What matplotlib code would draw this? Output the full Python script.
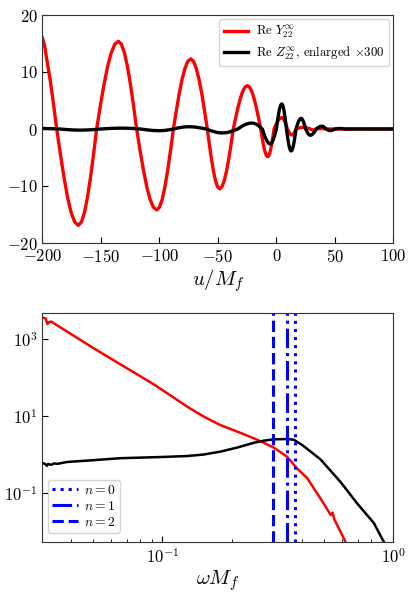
import matplotlib
matplotlib.use("Agg")
import matplotlib.pyplot as plt
from matplotlib.ticker import FixedLocator, NullLocator

plt.rcParams['font.family'] = 'serif'
plt.rcParams['font.serif'] = ['cmr10', 'DejaVu Serif']
plt.rcParams['mathtext.fontset'] = 'cm'
plt.rcParams['axes.formatter.use_mathtext'] = True
plt.rcParams['axes.unicode_minus'] = True

# ---- top panel: time domain ----
u_Y = [-200, -198, -196.5, -193.5, -190.6, -187.7,
       -184.6, -181.5, -178.5, -175.4, -172.3, -169.2,
       -166.6, -164.0, -161.4, -158.8, -156.2, -153.6,
       -150.5, -147.4, -144.3, -141.2, -138.1, -135,
       -132.4, -129.8, -127.2, -124.6, -122.0, -119.4,
       -116.55, -113.7, -110.85, -108.0, -105.15, -102.3,
       -99.9, -97.5, -95.15, -92.8, -90.4, -88,
       -85.5, -83.1, -80.6, -78.1, -75.7, -73.2,
       -70.8, -68.5, -66.1, -63.7, -61.4, -59,
       -57.25, -55.5, -53.75, -52.0, -50.25, -48.5,
       -46.55, -44.6, -42.65, -40.7, -38.75, -36.8,
       -34.8, -32.8, -30.8, -28.8, -26.8, -24.8,
       -22.9, -21.0, -19.1, -17.2, -15.3, -13.4,
       -12.4, -11.4, -10.4, -9.4, -8.4, -7.4,
       -6.5, -5.6, -4.7, -3.8, -2.9, -2,
       -0.9, 0.2, 1.3, 2.4, 3.5, 4.6,
       5.4, 6.2, 7.0, 7.8, 8.6, 9.4,
       10.03, 10.67, 11.3, 11.93, 12.57, 13.2,
       13.8, 14.4, 15.0, 15.6, 16.2, 16.8,
       18.9, 21, 23.1, 25, 27, 29,
       31.5, 34.5, 38.7, 43, 60, 100]
re_Y = [16.0, 14.6, 12.6, 8.9, 4.6, 0,
        -4.38, -8.45, -11.95, -14.64, -16.33, -16.9,
        -16.33, -14.64, -11.95, -8.45, -4.38, 0,
        3.99, 7.7, 10.89, 13.34, 14.88, 15.4,
        14.88, 13.34, 10.89, 7.7, 3.99, 0,
        -3.68, -7.1, -10.04, -12.3, -13.72, -14.2,
        -13.72, -12.3, -10.04, -7.1, -3.68, 0,
        3.19, 6.15, 8.7, 10.65, 11.88, 12.3,
        11.88, 10.65, 8.7, 6.15, 3.19, 0,
        -2.72, -5.25, -7.42, -9.09, -10.14, -10.5,
        -10.14, -9.09, -7.42, -5.25, -2.72, 0,
        1.97, 3.8, 5.37, 6.58, 7.34, 7.6,
        7.34, 6.58, 5.37, 3.8, 1.97, 0,
        -1.26, -2.43, -3.43, -4.2, -4.69, -4.85,
        -4.69, -4.2, -3.43, -2.43, -1.26, 0,
        0.52, 1.0, 1.41, 1.73, 1.93, 2.0,
        1.93, 1.73, 1.41, 1.0, 0.52, 0,
        -0.27, -0.52, -0.74, -0.91, -1.01, -1.05,
        -1.01, -0.91, -0.74, -0.52, -0.27, 0,
        0.15, 0.26, 0.3, 0.26, 0.15, 0,
        -0.2, 0, 0.1, 0, 0, 0]

u_Z = [-200, -192, -185, -179.3, -173.7, -168, -162, -156, -150, -144,
       -138, -132, -126.7, -121.3, -116, -110.7, -105.3, -100, -96, -92,
       -88, -83.7, -79.3, -75, -70, -65, -60, -55.3, -50.7, -46,
       -41.7, -37.3, -33,
       -31, -29, -27, -25, -23, -21,
       -19.5, -18, -16.5, -15, -13.5, -12,
       -10.9, -9.8, -8.65, -7.5, -6.4, -5.3,
       -4.4, -3.5, -2.65, -1.8, -0.9, 0,
       0.77, 1.53, 2.3, 3.07, 3.83, 4.6,
       5.27, 5.93, 6.6, 7.27, 7.93, 8.6,
       9.27, 9.93, 10.6, 11.27, 11.93, 12.6,
       13.3, 14.0, 14.7, 15.4, 16.1, 16.8,
       17.5, 18.2, 18.95, 19.67, 20.4, 21.1,
       21.75, 22.4, 23.05, 23.7, 24.35, 25,
       25.67, 26.33, 27, 27.67, 28.33, 29,
       29.83, 30.67, 31.5, 32.33, 33.17, 34,
       35.6, 37.2, 38.8, 40, 41.3, 42.5,
       44.3, 46, 48, 50, 52.5, 54.5, 56.5, 58, 65, 100]
re_Z = [0.10, 0.05, 0, -0.1, -0.17, -0.2, -0.17, -0.1, 0, 0.075,
        0.13, 0.15, 0.13, 0.075, 0, -0.15, -0.26, -0.3, -0.26, -0.15,
        0, 0.2, 0.35, 0.4, 0.35, 0.2, 0, -0.35, -0.61, -0.7,
        -0.61, -0.35, 0,
        0.27, 0.53, 0.74, 0.91, 1.01, 1.05,
        1.01, 0.91, 0.74, 0.53, 0.27, 0,
        -0.68, -1.32, -1.86, -2.28, -2.54, -2.63,
        -2.54, -2.28, -1.86, -1.32, -0.68, 0,
        1.14, 2.2, 3.11, 3.81, 4.25, 4.4,
        4.25, 3.81, 3.11, 2.2, 1.14, 0,
        -1.0, -1.93, -2.73, -3.34, -3.73, -3.86,
        -3.73, -3.34, -2.73, -1.93, -1.0, 0,
        0.48, 0.94, 1.32, 1.62, 1.81, 1.87,
        1.81, 1.62, 1.32, 0.94, 0.48, 0,
        -0.28, -0.55, -0.78, -0.95, -1.06, -1.1,
        -1.06, -0.95, -0.78, -0.55, -0.28, 0,
        0.25, 0.43, 0.5, 0.43, 0.25, 0,
        -0.2, -0.3, -0.2, 0, 0.07, 0.1, 0.06, 0, 0.01, 0]

# ---- bottom panel: frequency domain ----
w_Y = [0.0302, 0.0312, 0.0318, 0.0322, 0.033, 0.05, 0.0658, 0.0917, 0.128, 0.151,
       0.178, 0.211, 0.249, 0.274, 0.303, 0.346, 0.382, 0.423, 0.499, 0.535,
       0.545, 0.555, 0.62]
abs_Y = [3700, 3500, 2500, 2800, 2900, 600, 222, 67, 17.5, 9.6,
         5.8, 3.9, 2.6, 2.0, 1.5, 0.87, 0.43, 0.24, 0.052, 0.026,
         0.03, 0.02, 0.0052]

w_Z = [0.0302, 0.031, 0.0316, 0.032, 0.033, 0.034, 0.035, 0.0387, 0.05, 0.0658,
       0.1, 0.128, 0.15, 0.178, 0.211, 0.249, 0.274, 0.303, 0.346, 0.37,
       0.403, 0.483, 0.59, 0.697, 0.823, 0.92]
abs_Z = [0.6, 0.56, 0.5, 0.56, 0.53, 0.58, 0.56, 0.63, 0.7, 0.79,
         0.85, 0.9, 0.98, 1.17, 1.5, 2.0, 2.26, 2.45, 2.5, 2.4,
         1.74, 0.74, 0.19, 0.052, 0.016, 0.0045]

qnm_freqs = [0.376, 0.347, 0.302]
qnm_labels = ['$n=0$', '$n=1$', '$n=2$']
qnm_styles = [':', '-.', '--']

fig = plt.figure(figsize=(4.15, 6.0), dpi=100)
ax1 = fig.add_axes([0.102, 0.595, 0.846, 0.38])
ax2 = fig.add_axes([0.102, 0.097, 0.846, 0.381])

ax1.plot(u_Y, re_Y, color='red', lw=2.4, label=r'Re $Y_{22}^{\infty}$')
ax1.plot(u_Z, re_Z, color='black', lw=2.4, label=r'Re $Z_{22}^{\infty}$, enlarged $\times 300$')
ax1.set_xlim(-200, 100)
ax1.set_ylim(-20, 20)
ax1.set_xticks([-200, -150, -100, -50, 0, 50, 100])
ax1.set_yticks([-20, -10, 0, 10, 20])
ax1.set_xlabel(r'$u/M_f$', fontsize=15, labelpad=2)
ax1.legend(loc='upper right', fontsize=9.2, handlelength=1.9, borderaxespad=0.35,
           labelspacing=0.25, handletextpad=0.6, borderpad=0.35)

ax2.plot(w_Y, abs_Y, color='red', lw=1.8)
ax2.plot(w_Z, abs_Z, color='black', lw=1.8)
for f, lab, ls in zip(qnm_freqs, qnm_labels, qnm_styles):
    ax2.axvline(f, color='blue', ls=ls, lw=2.2, label=lab)
ax2.set_xscale('log')
ax2.set_yscale('log')
ax2.set_xlim(0.0302, 1.0)
ax2.set_ylim(0.0052, 4800)
ax2.yaxis.set_major_locator(FixedLocator([0.1, 10, 1000]))
ax2.yaxis.set_minor_locator(NullLocator())
ax2.set_xlabel(r'$\omega M_f$', fontsize=15, labelpad=2)
ax2.legend(loc='lower left', bbox_to_anchor=(0.015, 0.04), borderaxespad=0,
           fontsize=9.8, handlelength=1.9, labelspacing=0.22, handletextpad=0.45,
           borderpad=0.3)

for ax in (ax1, ax2):
    ax.tick_params(which='both', direction='in', top=False, right=False, labelsize=12)
    ax.tick_params(which='major', length=4)
    ax.tick_params(which='minor', length=2.5)
    for sp in ax.spines.values():
        sp.set_color('#333333')

fig.savefig('out.png', dpi=100)
